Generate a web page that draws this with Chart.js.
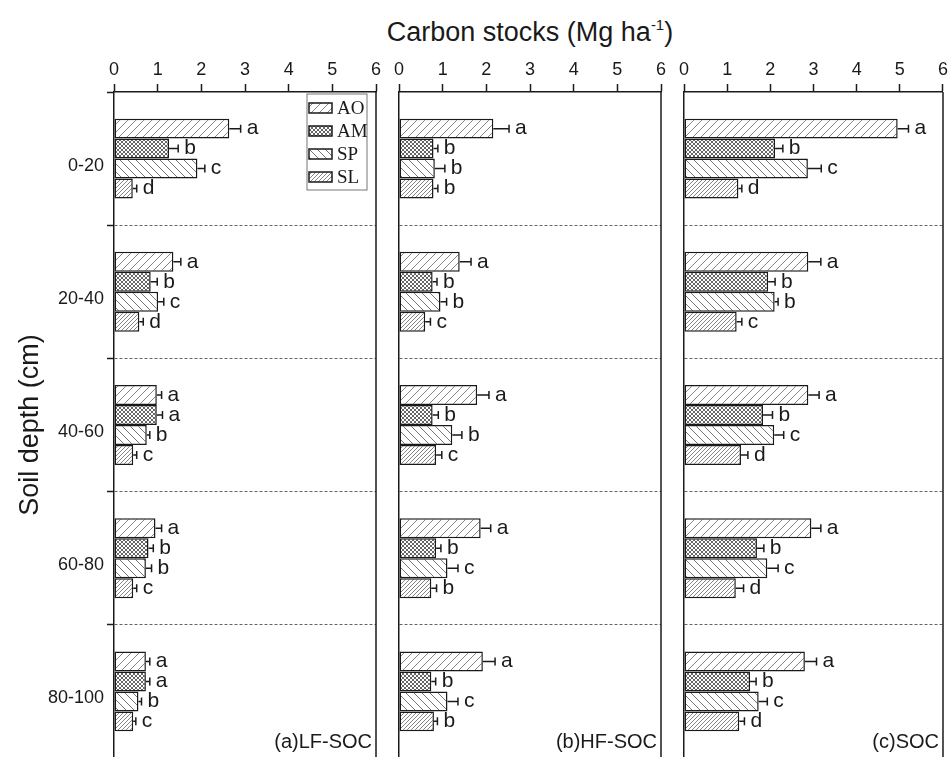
<!DOCTYPE html>
<html>
<head>
<meta charset="utf-8">
<script src="https://cdn.jsdelivr.net/npm/chart.js@4.4.0/dist/chart.umd.min.js"></script>
<style>
  html, body { margin: 0; padding: 0; background: #fff; overflow: hidden; }
  #wrap { position: relative; width: 951px; height: 757px; overflow: hidden; }
  #wrap canvas { position: absolute; top: 0; }
  #title { position: absolute; top: 17px; left: 280px; width: 500px; text-align: center;
           font: 27px "Liberation Sans", Arial, sans-serif; color: #1a1a1a; line-height: 30px; }
  #title sup { font-size: 15px; vertical-align: 11px; line-height: 0; }
</style>
</head>
<body>
<div id="wrap">
  <div id="title">Carbon stocks (Mg ha<sup>-1</sup>)</div>
  <canvas id="lf" width="395" height="758" style="left:0px"></canvas>
  <canvas id="hf" width="290" height="758" style="left:385px"></canvas>
  <canvas id="soc" width="281" height="758" style="left:670px"></canvas>
</div>
<script>
// depth classes and treatments
var depths = ["0-20", "20-40", "40-60", "60-80", "80-100"];
var treatments = ["AO", "AM", "SP", "SL"];
var xTicks = [0, 1, 2, 3, 4, 5, 6];

// (a) LF-SOC
var lfAO = [2.64, 1.36, 0.98, 0.95, 0.73];
var lfAM = [1.26, 0.84, 0.98, 0.79, 0.73];
var lfSP = [1.91, 1.01, 0.75, 0.73, 0.56];
var lfSL = [0.43, 0.58, 0.44, 0.44, 0.44];
var lfAOErr = [0.26, 0.17, 0.11, 0.14, 0.09];
var lfAMErr = [0.21, 0.15, 0.13, 0.11, 0.09];
var lfSPErr = [0.17, 0.13, 0.07, 0.13, 0.07];
var lfSLErr = [0.09, 0.09, 0.08, 0.08, 0.06];
var lfLetters = ["abcd", "abcd", "aabc", "abbc", "aabc"];

// (b) HF-SOC
var hfAO = [2.16, 1.39, 1.79, 1.87, 1.92];
var hfAM = [0.79, 0.77, 0.77, 0.85, 0.74];
var hfSP = [0.82, 0.95, 1.22, 1.11, 1.11];
var hfSL = [0.79, 0.60, 0.85, 0.74, 0.80];
var hfAOErr = [0.36, 0.26, 0.27, 0.23, 0.28];
var hfAMErr = [0.10, 0.10, 0.13, 0.11, 0.10];
var hfSPErr = [0.23, 0.14, 0.22, 0.24, 0.24];
var hfSLErr = [0.10, 0.12, 0.13, 0.12, 0.08];
var hfLetters = ["abbb", "abbc", "abbc", "abcb", "abcb"];

// (c) SOC
var socAO = [4.95, 2.88, 2.88, 2.95, 2.80];
var socAM = [2.11, 1.95, 1.83, 1.69, 1.53];
var socSP = [2.87, 2.10, 2.09, 1.93, 1.73];
var socSL = [1.26, 1.22, 1.32, 1.20, 1.28];
var socAOErr = [0.25, 0.29, 0.25, 0.22, 0.27];
var socAMErr = [0.18, 0.16, 0.22, 0.16, 0.14];
var socSPErr = [0.31, 0.08, 0.22, 0.25, 0.20];
var socSLErr = [0.08, 0.12, 0.16, 0.18, 0.12];
var socLetters = ["abcd", "abbc", "abcd", "abcd", "abcd"];

var ink = "#1a1a1a";
var sans = '"Liberation Sans", Arial, sans-serif';
Chart.defaults.font.family = sans;
Chart.defaults.color = ink;

// hatch fills
function hatch(size, dirs, color, lw) {
    var c = document.createElement("canvas");
    c.width = c.height = size;
    var g = c.getContext("2d");
    g.fillStyle = "#fff";
    g.fillRect(0, 0, size, size);
    g.strokeStyle = color;
    g.lineWidth = lw;
    dirs.forEach(function (d) {
        g.beginPath();
        if (d === "/") {
            g.moveTo(0, size); g.lineTo(size, 0);
            g.moveTo(-size / 2, size / 2); g.lineTo(size / 2, -size / 2);
            g.moveTo(size / 2, size * 1.5); g.lineTo(size * 1.5, size / 2);
        } else {
            g.moveTo(0, 0); g.lineTo(size, size);
            g.moveTo(-size / 2, size / 2); g.lineTo(size / 2, size * 1.5);
            g.moveTo(size / 2, -size / 2); g.lineTo(size * 1.5, size / 2);
        }
        g.stroke();
    });
    return g.createPattern(c, "repeat");
}
var fills = [
    hatch(8, ["/"], "#777", 0.9),
    hatch(4, ["/", "\\"], "#555", 0.9),
    hatch(8, ["\\"], "#666", 0.9),
    hatch(4, ["/"], "#666", 0.8)
];

function makePanel(id, vals, errs, letters, panelLabel, first, pad) {
    var datasets = treatments.map(function (t, i) {
        return {
            label: t,
            data: vals[i],
            errs: errs[i],
            backgroundColor: fills[i],
            borderColor: ink,
            borderWidth: 1.5,
            borderSkipped: false,
            categoryPercentage: 0.6,
            barPercentage: 1.0
        };
    });

    var extras = {
        id: "extras",
        afterDatasetsDraw: function (chart) {
            var ctx = chart.ctx, xs = chart.scales.x, ca = chart.chartArea;
            // error bars + letters
            chart.data.datasets.forEach(function (ds, di) {
                chart.getDatasetMeta(di).data.forEach(function (bar, j) {
                    var x0 = bar.x, y = bar.y;
                    var x1 = xs.getPixelForValue(ds.data[j] + ds.errs[j]);
                    ctx.save();
                    ctx.strokeStyle = ink;
                    ctx.lineWidth = 1.5;
                    ctx.beginPath();
                    ctx.moveTo(x0, y); ctx.lineTo(x1, y);
                    ctx.moveTo(x1, y - 4); ctx.lineTo(x1, y + 4);
                    ctx.stroke();
                    ctx.fillStyle = ink;
                    ctx.font = "21px " + sans;
                    ctx.textAlign = "left";
                    ctx.textBaseline = "middle";
                    ctx.fillText(letters[j][di], x1 + 6, y);
                    ctx.restore();
                });
            });
            ctx.save();
            // right frame line
            ctx.strokeStyle = ink;
            ctx.lineWidth = 1.5;
            ctx.beginPath();
            ctx.moveTo(ca.right, ca.top); ctx.lineTo(ca.right, ca.bottom);
            ctx.stroke();
            // panel label
            ctx.fillStyle = ink;
            ctx.font = "20px " + sans;
            ctx.textAlign = "right";
            ctx.textBaseline = "middle";
            ctx.fillText(panelLabel, ca.right - 4, ca.bottom - 16);
            // legend box (first panel only)
            if (first) {
                var lx = ca.right - 69, ly = ca.top + 2;
                ctx.strokeStyle = "#777";
                ctx.lineWidth = 1;
                ctx.strokeRect(lx, ly, 60, 96);
                chart.data.datasets.forEach(function (ds, i) {
                    var cy = ly + 14 + i * 23;
                    ctx.fillStyle = ds.backgroundColor;
                    ctx.fillRect(lx + 2, cy - 5, 23, 10);
                    ctx.strokeStyle = ink;
                    ctx.lineWidth = 1.5;
                    ctx.strokeRect(lx + 2, cy - 5, 23, 10);
                    ctx.fillStyle = ink;
                    ctx.font = '19px "Liberation Serif", "Times New Roman", serif';
                    ctx.textAlign = "left";
                    ctx.fillText(ds.label, lx + 30, cy + 1);
                });
            }
            ctx.restore();
        }
    };

    return new Chart(document.getElementById(id), {
        type: "bar",
        data: { labels: depths, datasets: datasets },
        plugins: [extras],
        options: {
            indexAxis: "y",
            responsive: false,
            animation: false,
            layout: { padding: pad },
            plugins: { legend: { display: false }, tooltip: { enabled: false } },
            scales: {
                x: {
                    type: "linear",
                    position: "top",
                    min: xTicks[0],
                    max: xTicks[xTicks.length - 1],
                    afterBuildTicks: function (s) {
                        s.ticks = xTicks.map(function (v) { return { value: v }; });
                    },
                    ticks: { color: ink, font: { size: 18 }, padding: 3 },
                    grid: { drawOnChartArea: false, drawTicks: true, tickLength: 8, tickColor: ink, tickWidth: 1.5 },
                    border: { color: ink, width: 1.5 },
                    afterFit: function (s) { s.height = 92; }
                },
                y: {
                    type: "category",
                    position: "left",
                    grid: {
                        offset: true,
                        color: function (c) { return c.index >= 1 ? "#666" : "rgba(0,0,0,0)"; },
                        lineWidth: 1,
                        drawTicks: first,
                        tickLength: 7,
                        tickColor: ink,
                        tickWidth: 1.5
                    },
                    border: { display: true, color: ink, width: 1.5, dash: [3, 2] },
                    ticks: { display: first, color: ink, font: { size: 18 }, padding: 3, labelOffset: 7 },
                    title: {
                        display: first,
                        text: "Soil depth (cm)",
                        color: ink,
                        font: { size: 27 },
                        padding: { top: 14, bottom: 0 }
                    },
                    afterFit: function (s) {
                        s.width = first ? 114 : 0;
                        s.paddingTop = 0;
                        s.paddingBottom = 0;
                    }
                }
            }
        }
    });
}

document.addEventListener("DOMContentLoaded", function () {
    makePanel("lf", [lfAO, lfAM, lfSP, lfSL], [lfAOErr, lfAMErr, lfSPErr, lfSLErr],
        lfLetters, "(a)LF-SOC", true, { left: 0, right: 19, top: 0, bottom: 0 });
    makePanel("hf", [hfAO, hfAM, hfSP, hfSL], [hfAOErr, hfAMErr, hfSPErr, hfSLErr],
        hfLetters, "(b)HF-SOC", false, { left: 14, right: 14, top: 0, bottom: 0 });
    makePanel("soc", [socAO, socAM, socSP, socSL], [socAOErr, socAMErr, socSPErr, socSLErr],
        socLetters, "(c)SOC", false, { left: 14, right: 5, top: 0, bottom: 0 });
});
</script>
</body>
</html>
